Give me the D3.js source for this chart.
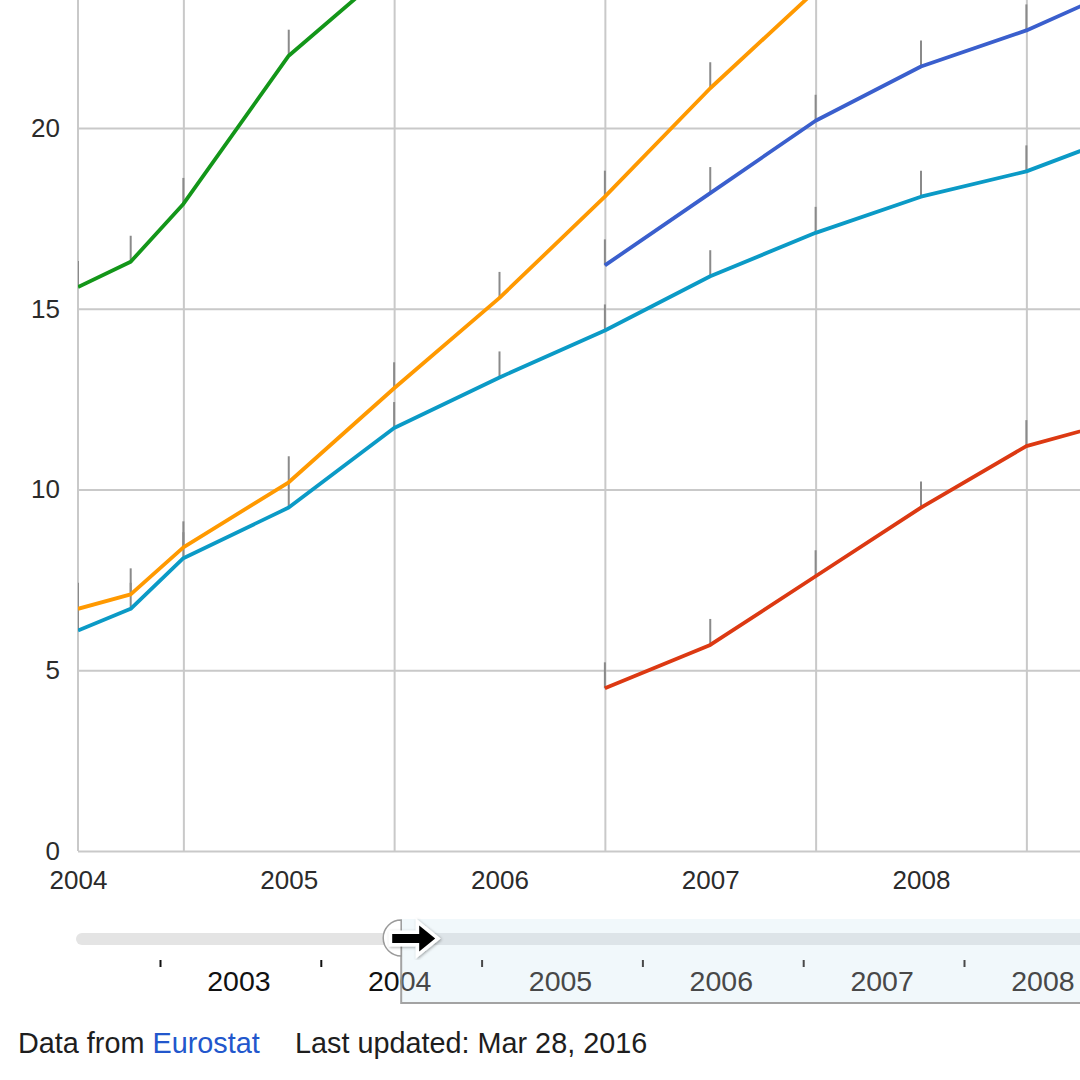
<!DOCTYPE html>
<html>
<head>
<meta charset="utf-8">
<script src="https://cdn.jsdelivr.net/npm/d3@7"></script>
<style>
  html, body { margin: 0; padding: 0; background: #fff; }
  svg { display: block; font-family: "Liberation Sans", Arial, Helvetica, sans-serif; }
</style>
</head>
<body>
<svg id="chart" width="1080" height="1080"></svg>
<script>
// ---------------- data ----------------
const periods = [2004, 2004.25, 2004.5, 2005, 2005.5, 2006, 2006.5, 2007, 2007.5, 2008, 2008.5, 2009];
const seriesGreen  = [15.6, 16.3, 17.9, 22.0, 24.5, null, null, null, null, null, null, null];
const seriesOrange = [6.7, 7.1, 8.4, 10.2, 12.8, 15.3, 18.1, 21.1, 23.8, null, null, null];
const seriesTeal   = [6.1, 6.7, 8.1, 9.5, 11.7, 13.1, 14.4, 15.9, 17.1, 18.1, 18.8, 19.9];
const seriesBlue   = [null, null, null, null, null, null, 16.2, 18.2, 20.2, 21.7, 22.7, 24.0];
const seriesRed    = [null, null, null, null, null, null, 4.5, 5.7, 7.6, 9.5, 11.2, 12.0];
const seriesNames  = ["green", "orange", "teal", "blue", "red"];
const seriesColors = ["#139619", "#ff9900", "#0b9ac6", "#3a5fcd", "#dc3912"];
const yTicks = [0, 5, 10, 15, 20];
const xLabelYears = [2004, 2005, 2006, 2007, 2008];
const xGridYears = [2004.5, 2005.5, 2006.5, 2007.5, 2008.5];
const sliderTickYears = [2003, 2004, 2005, 2006, 2007, 2008];
const sliderLabelYears = [2003, 2004, 2005, 2006, 2007, 2008];
const selectionStart = 2004.5;
const footerSource = "Eurostat";
const footerUpdated = "Last updated: Mar 28, 2016";

const allSeries = [seriesGreen, seriesOrange, seriesTeal, seriesBlue, seriesRed];

// ---------------- layout ----------------
const W = 1080, H = 1080;
const plotLeft = 78, plotBottom = 851, plotTop = 0;
const svg = d3.select("#chart");

const x = d3.scaleLinear().domain([2004, 2009]).range([plotLeft, plotLeft + 5 * 210.75]);
const y = d3.scaleLinear().domain([0, 20]).range([plotBottom, 128]);

const defs = svg.append("defs");
defs.append("clipPath").attr("id", "plotClip")
  .append("rect").attr("x", plotLeft).attr("y", plotTop).attr("width", W - plotLeft).attr("height", plotBottom - plotTop + 2);

// gridlines
const gridColor = "#c9c9c9";
const gy = svg.append("g").attr("transform", `translate(${plotLeft},0)`)
  .call(d3.axisLeft(y).tickValues(yTicks).tickSize(-(W - plotLeft)).tickFormat(""));
gy.select(".domain").remove();
gy.selectAll("line").attr("stroke", gridColor).attr("stroke-width", 2);

const gx = svg.append("g").attr("transform", `translate(0,${plotBottom})`)
  .call(d3.axisBottom(x).tickValues(xGridYears).tickSize(-plotBottom).tickFormat(""));
gx.select(".domain").remove();
gx.selectAll("line").attr("stroke", gridColor).attr("stroke-width", 2);

// left axis line
svg.append("line").attr("x1", plotLeft).attr("x2", plotLeft).attr("y1", 0).attr("y2", plotBottom)
  .attr("stroke", gridColor).attr("stroke-width", 2);

// y labels
const ya = svg.append("g").attr("transform", `translate(${plotLeft},0)`)
  .call(d3.axisLeft(y).tickValues(yTicks).tickSize(0).tickPadding(18));
ya.select(".domain").remove();
ya.selectAll("text").attr("font-size", 26).attr("fill", "#2b2b2b").attr("font-family", "Liberation Sans, Arial, sans-serif");

// x labels
const xa = svg.append("g").attr("transform", `translate(0,${plotBottom})`)
  .call(d3.axisBottom(x).tickValues(xLabelYears).tickFormat(d3.format("d")).tickSize(0).tickPadding(20));
xa.select(".domain").remove();
xa.selectAll("text").attr("font-size", 26).attr("fill", "#2b2b2b").attr("font-family", "Liberation Sans, Arial, sans-serif");

// series
const plot = svg.append("g").attr("clip-path", "url(#plotClip)");
const line = d3.line()
  .defined(d => d.v !== null)
  .x(d => x(d.t)).y(d => y(d.v));

allSeries.forEach((vals, i) => {
  const pts = periods.map((t, k) => ({ t, v: vals[k] }));
  plot.append("g").selectAll("line")
    .data(pts.filter(d => d.v !== null))
    .join("line")
    .attr("x1", d => x(d.t)).attr("x2", d => x(d.t))
    .attr("y1", d => y(d.v)).attr("y2", d => y(d.v) - 26)
    .attr("stroke", "#8a8a8a").attr("stroke-width", 2);
});
allSeries.forEach((vals, i) => {
  const pts = periods.map((t, k) => ({ t, v: vals[k] }));
  plot.append("path").datum(pts)
    .attr("d", line)
    .attr("fill", "none")
    .attr("stroke", seriesColors[i])
    .attr("stroke-width", 3.8)
    .attr("stroke-linejoin", "round");
});

// ---------------- time slider ----------------
const sx = d3.scaleLinear().domain([2003, 2008]).range([160, 964]);
const selX = sx(selectionStart);
const trackY = 933, trackH = 12;

svg.append("rect").attr("x", selX).attr("y", 919).attr("width", W - selX).attr("height", 84)
  .attr("fill", "#f1f8fb");

svg.append("rect").attr("x", 76).attr("y", trackY).attr("width", W + 20 - 76).attr("height", trackH)
  .attr("rx", 6).attr("fill", "#e4e4e4");
svg.append("rect").attr("x", selX).attr("y", trackY).attr("width", W - selX).attr("height", trackH)
  .attr("fill", "#dde4e8");

svg.append("line").attr("x1", selX).attr("x2", W).attr("y1", 1003).attr("y2", 1003)
  .attr("stroke", "#a3a3a3").attr("stroke-width", 2);
svg.append("line").attr("x1", selX).attr("x2", selX).attr("y1", 938).attr("y2", 1004)
  .attr("stroke", "#a3a3a3").attr("stroke-width", 2);

defs.append("clipPath").attr("id", "outsideSel")
  .append("rect").attr("x", 0).attr("y", 900).attr("width", selX).attr("height", 120);
defs.append("clipPath").attr("id", "insideSel")
  .append("rect").attr("x", selX + 1).attr("y", 900).attr("width", W).attr("height", 120);

function drawSliderAxis(clipId, color) {
  const g = svg.append("g").attr("clip-path", `url(#${clipId})`);
  const t = g.append("g").attr("transform", "translate(0,960)")
    .call(d3.axisBottom(sx).tickValues(sliderTickYears).tickSize(7).tickFormat(""));
  t.select(".domain").remove();
  t.selectAll("line").attr("stroke", color).attr("stroke-width", 2);
  const l = g.append("g").attr("transform", "translate(-2,960)")
    .call(d3.axisBottom(sx).tickValues(sliderLabelYears.map(d => d + 0.5)).tickSize(0).tickPadding(11)
      .tickFormat(d => String(Math.floor(d))));
  l.select(".domain").remove();
  l.selectAll("text").attr("font-size", 28.5).attr("fill", color).attr("font-family", "Liberation Sans, Arial, sans-serif");
}
drawSliderAxis("outsideSel", "#111");
drawSliderAxis("insideSel", "#484848");

// handle (half circle)
const hr = 18, hcy = 938;
svg.append("path")
  .attr("d", `M${selX},${hcy - hr} A${hr},${hr} 0 0 0 ${selX},${hcy + hr} Z`)
  .attr("fill", "#fff").attr("stroke", "#9a9a9a").attr("stroke-width", 1.5);

// arrow
const ax0 = selX - 9, ay = 938.5;
const arrowPath = `M${ax0},${ay - 4.5} L${ax0 + 27},${ay - 4.5} L${ax0 + 27},${ay - 13} L${ax0 + 43},${ay} L${ax0 + 27},${ay + 13} L${ax0 + 27},${ay + 4.5} L${ax0},${ay + 4.5} Z`;
const shadow = defs.append("filter").attr("id", "shadow").attr("x", "-30%").attr("y", "-30%").attr("width", "160%").attr("height", "160%");
shadow.append("feDropShadow").attr("dx", 1).attr("dy", 1).attr("stdDeviation", 1.5).attr("flood-color", "#000").attr("flood-opacity", 0.35);
svg.append("path").attr("d", arrowPath).attr("fill", "#fff").attr("stroke", "#fff")
  .attr("stroke-width", 7).attr("stroke-linejoin", "miter").attr("filter", "url(#shadow)");
svg.append("path").attr("d", arrowPath).attr("fill", "#000");

// ---------------- footer ----------------
const foot = svg.append("text").attr("x", 18).attr("y", 1053)
  .attr("font-size", 28.8).attr("fill", "#1e1e1e");
foot.append("tspan").text("Data from ");
foot.append("tspan").attr("fill", "#2257cc").text(footerSource);
svg.append("text").attr("x", 295).attr("y", 1053)
  .attr("font-size", 28.8).attr("fill", "#1e1e1e").text(footerUpdated);
</script>
</body>
</html>
